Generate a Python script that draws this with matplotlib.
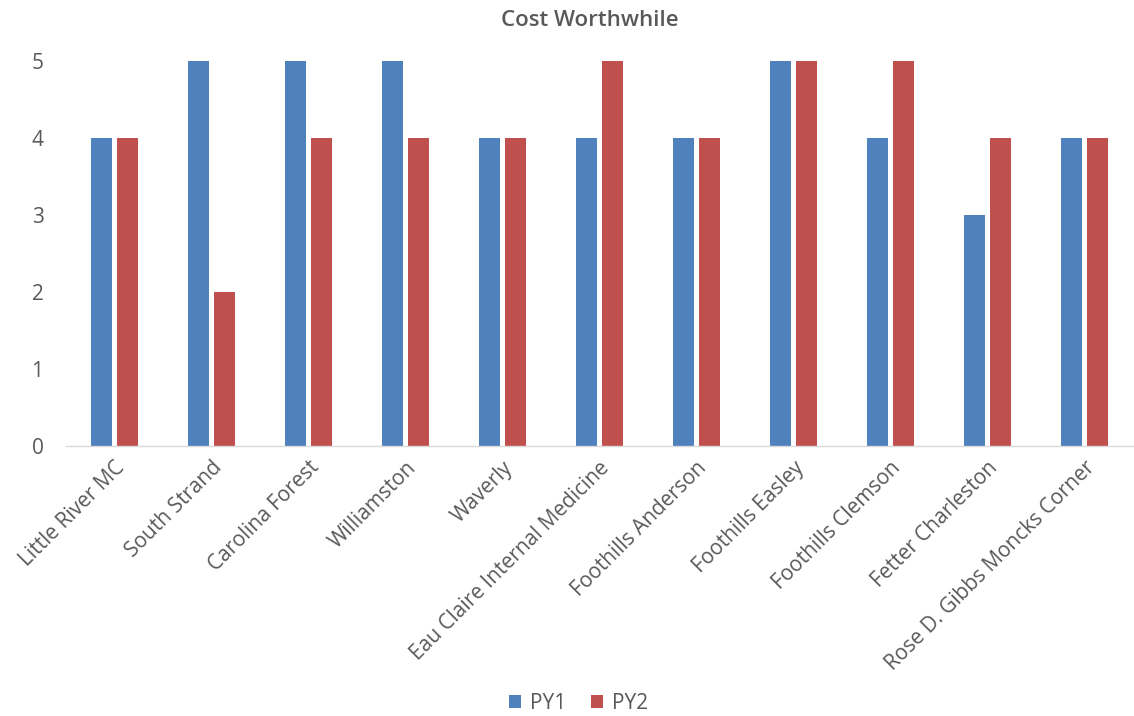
import matplotlib
matplotlib.use("Agg")
import matplotlib.pyplot as plt
import numpy as np

plt.rcParams['font.family'] = ['Open Sans', 'DejaVu Sans']

categories = ["Little River MC", "South Strand", "Carolina Forest", "Williamston", "Waverly",
              "Eau Claire Internal Medicine", "Foothills Anderson", "Foothills Easley",
              "Foothills Clemson", "Fetter Charleston", "Rose D. Gibbs Moncks Corner"]
py1 = [4, 5, 5, 5, 4, 4, 4, 5, 4, 3, 4]
py2 = [4, 2, 4, 4, 4, 5, 4, 5, 5, 4, 4]
yticks = [0, 1, 2, 3, 4, 5]

blue = "#4F81BD"
red = "#C0504D"
txt = "#595959"

fig = plt.figure(figsize=(11.34, 7.16), dpi=100)
ax = fig.add_axes([0.058, 0.377, 0.941, 0.538])

x = np.arange(len(categories))
w = 0.22
off = 0.135
ax.bar(x - off, py1, width=w, color=blue, label="PY1")
ax.bar(x + off, py2, width=w, color=red, label="PY2")

ax.set_xlim(-0.5, len(categories) - 0.5)
ax.set_ylim(0, 5)
ax.set_yticks(yticks)
ax.set_yticklabels([str(v) for v in yticks], fontsize=15, color=txt)
ax.set_xticks(x)
ax.set_xticklabels(categories, rotation=45, ha='right', rotation_mode='anchor', fontsize=15, color=txt)
ax.tick_params(axis='both', length=0)
ax.tick_params(axis='y', pad=16)
ax.tick_params(axis='x', pad=8)

for s in ['top', 'right', 'left']:
    ax.spines[s].set_visible(False)
ax.spines['bottom'].set_color('#D9D9D9')
ax.spines['bottom'].set_linewidth(1.0)

fig.text(0.52, 0.972, "Cost Worthwhile", ha='center', va='center', fontsize=16,
         fontweight='semibold', color=txt)

fig.legend(loc='center', bbox_to_anchor=(0.51, 0.018), ncol=2, frameon=False, fontsize=15,
           handlelength=0.6, handleheight=0.6, handletextpad=0.4, columnspacing=1.2,
           labelcolor=txt)

fig.savefig("out.png", dpi=100)
